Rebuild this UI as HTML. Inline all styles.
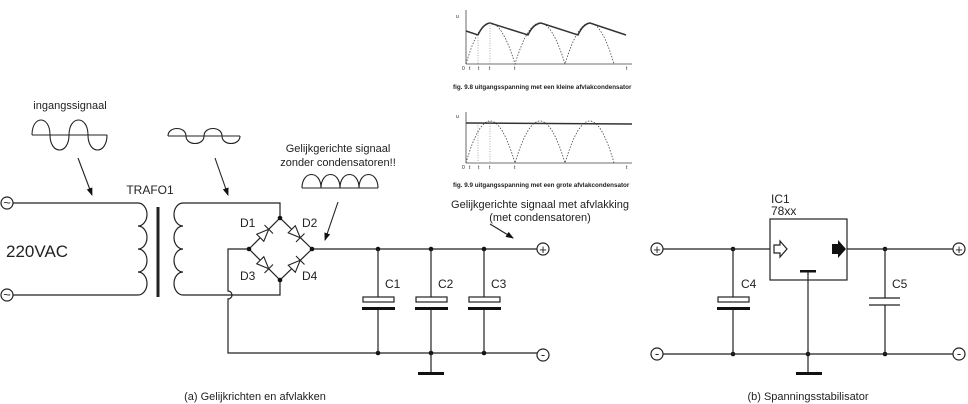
<!DOCTYPE html>
<html><head><meta charset="utf-8"><style>
html,body{margin:0;padding:0;background:#fff;}
svg{display:block;}
text{font-family:"Liberation Sans",sans-serif;fill:#222;}
</style></head><body>
<svg width="968" height="404" viewBox="0 0 968 404" xmlns="http://www.w3.org/2000/svg">
<defs>
<marker id="ah" markerWidth="8" markerHeight="8" refX="7" refY="4" orient="auto" markerUnits="userSpaceOnUse">
<path d="M0,1 L8,4 L0,7 Z" fill="#111"/></marker>
</defs>
<g stroke="#222" stroke-width="1.2" fill="none">
<circle cx="7" cy="203" r="6"/><circle cx="7" cy="295" r="6"/>
<path d="M13,203 H138 M13,295 H138"/>
<path d="M138,203 a9,11.5 0 0 1 0,23 a9,11.5 0 0 1 0,23 a9,11.5 0 0 1 0,23 a9,11.5 0 0 1 0,23"/>
<path d="M183,203 a9,11.5 0 0 0 0,23 a9,11.5 0 0 0 0,23 a9,11.5 0 0 0 0,23 a9,11.5 0 0 0 0,23"/>
<line x1="158" y1="207" x2="158" y2="297" stroke-width="3"/>
<path d="M183,203 H280 V218 M183,295 H280 V280"/>
<path d="M249,249 L280,218 L312,249 L280,280 Z"/>
<path d="M249,249 H228 V291 a4,4 0 0 1 0,8 V353 H537"/>
<path d="M312,249 H537"/>
</g>
<g fill="#fff" stroke="#222" stroke-width="1.1">
<g transform="translate(264.5,233.5) rotate(-45)"><path d="M-6,-5 L6,0 L-6,5 Z"/><line x1="6" y1="-6" x2="6" y2="6"/></g>
<g transform="translate(296,233.5) rotate(45)"><path d="M-6,-5 L6,0 L-6,5 Z"/><line x1="6" y1="-6" x2="6" y2="6"/></g>
<g transform="translate(264.5,264.5) rotate(45)"><path d="M-6,-5 L6,0 L-6,5 Z"/><line x1="6" y1="-6" x2="6" y2="6"/></g>
<g transform="translate(296,264.5) rotate(-45)"><path d="M-6,-5 L6,0 L-6,5 Z"/><line x1="6" y1="-6" x2="6" y2="6"/></g>
</g>
<g fill="#111">
<circle cx="280" cy="218" r="2.3"/><circle cx="249" cy="249" r="2.3"/><circle cx="312" cy="249" r="2.3"/><circle cx="280" cy="280" r="2.3"/>
<circle cx="378" cy="249" r="2.3"/><circle cx="431" cy="249" r="2.3"/><circle cx="484" cy="249" r="2.3"/>
<circle cx="378" cy="353" r="2.3"/><circle cx="431" cy="353" r="2.3"/><circle cx="484" cy="353" r="2.3"/>
<circle cx="733" cy="249" r="2.3"/><circle cx="733" cy="354" r="2.3"/><circle cx="808" cy="354" r="2.3"/>
<circle cx="885" cy="249" r="2.3"/><circle cx="885" cy="354" r="2.3"/>
</g>
<g stroke="#222" stroke-width="1.2" fill="#fff">
<path d="M378,249 V297 M378,309 V353 M431,249 V297 M431,309 V375 M484,249 V297 M484,309 V353" fill="none"/>
<rect x="363" y="297" width="31" height="5"/><rect x="416" y="297" width="31" height="5"/><rect x="469" y="297" width="31" height="5"/>
</g>
<g fill="#111">
<rect x="362" y="307" width="33" height="3"/><rect x="415" y="307" width="33" height="3"/><rect x="468" y="307" width="33" height="3"/>
<rect x="418" y="372" width="26" height="3"/>
</g>
<g stroke="#222" stroke-width="1.2" fill="#fff">
<circle cx="543" cy="249" r="6"/><circle cx="543" cy="355" r="6"/>
</g>
<g font-size="13" text-anchor="middle">
<text x="543" y="254">+</text>
<text x="543" y="359">-</text>
<text x="7" y="207">~</text>
<text x="7" y="299">~</text>
</g>
<g font-size="12">
<text x="70" y="109" text-anchor="middle" font-size="11">ingangssignaal</text>
<text x="150" y="194" text-anchor="middle">TRAFO1</text>
<text x="6" y="257" font-size="17">220VAC</text>
<text x="240" y="227">D1</text><text x="302" y="227">D2</text>
<text x="240" y="280">D3</text><text x="302" y="280">D4</text>
<text x="385" y="288">C1</text><text x="438" y="288">C2</text><text x="491" y="288">C3</text>
<text x="338" y="152" text-anchor="middle" font-size="11">Gelijkgerichte signaal</text>
<text x="338" y="166" text-anchor="middle" font-size="11">zonder condensatoren!!</text>
<text x="540" y="208" text-anchor="middle" font-size="11">Gelijkgerichte signaal met afvlakking</text>
<text x="540" y="221" text-anchor="middle" font-size="11">(met condensatoren)</text>
<text x="255" y="400" text-anchor="middle" font-size="11">(a) Gelijkrichten en afvlakken</text>
<text x="808" y="400" text-anchor="middle" font-size="11">(b) Spanningsstabilisator</text>
<text x="771" y="203">IC1</text><text x="771" y="215">78xx</text>
<text x="741" y="288">C4</text><text x="892" y="288">C5</text>
</g>
<g stroke="#222" stroke-width="1.1" fill="none">
<path d="M32,135 H107"/>
<path d="M32,135 C32,115 50,115 50,135 C50,155 69,155 69,135 C69,115 88,115 88,135 C88,155 107,155 107,135"/>
<path d="M168,136 H240"/>
<path d="M168,136 C168,126 186,126 186,136 C186,146 204,146 204,136 C204,126 222,126 222,136 C222,146 240,146 240,136"/>
<path d="M302,188 H378"/>
<path d="M302,188 C302,170 321,170 321,188 C321,170 340,170 340,188 C340,170 359,170 359,188 C359,170 378,170 378,188"/>
<path d="M78,158 L92,195" marker-end="url(#ah)"/>
<path d="M215,158 L228,195" marker-end="url(#ah)"/>
<path d="M338,202 L325,240" marker-end="url(#ah)"/>
<path d="M490,224 L513,238" marker-end="url(#ah)"/>
</g>
<g stroke="#444" stroke-width="0.8" fill="none">
<path d="M466,64 V10 M466,64 H632"/>
<path d="M466,64 Q490,-18 515,64 Q540,-18 565,64 Q590,-18 614,64" stroke-dasharray="1.5,1.5"/>
<path d="M466,31 L478,35 Q483,24 490,23 L528,35 Q533,24 541,23 L578,35 Q583,24 590,23 L626,35" stroke-width="1.5" stroke="#333"/>
<path d="M466,163 V112 M466,163 H632"/>
<path d="M466,163 Q490,79 515,163 Q540,79 565,163 Q590,79 614,163" stroke-dasharray="1.5,1.5"/>
<path d="M466,123 L632,124" stroke-width="1.5" stroke="#333"/>
<path d="M478,35 V64 M490,23 V64 M478,125 V163 M490,121 V163" stroke-dasharray="1,1.5" stroke="#999"/>
</g>
<g font-size="5" fill="#444">
<text x="456" y="18">u</text><text x="456" y="118">u</text>
<text x="462" y="70">0</text><text x="469" y="70">t</text><text x="478" y="70">t</text><text x="489" y="70">t</text><text x="514" y="70">t</text><text x="626" y="70">t</text>
<text x="462" y="169">0</text><text x="469" y="169">t</text><text x="478" y="169">t</text><text x="489" y="169">t</text><text x="514" y="169">t</text><text x="626" y="169">t</text>
</g>
<g font-size="6.3" font-weight="bold">
<text x="453" y="89">fig. 9.8 uitgangsspanning met een kleine afvlakcondensator</text>
<text x="453" y="187">fig. 9.9 uitgangsspanning met een grote afvlakcondensator</text>
</g>
<g stroke="#222" stroke-width="1.2" fill="none">
<circle cx="657" cy="249" r="6"/><circle cx="657" cy="354" r="6"/>
<circle cx="959" cy="249" r="6"/><circle cx="959" cy="354" r="6"/>
<path d="M663,249 H770 M847,249 H953 M663,354 H953"/>
<rect x="770" y="219" width="77" height="61"/>
<path d="M733,249 V297 M733,309 V354 M808,272 V373 M885,249 V298 M885,305 V354"/>
<path d="M869,298 H900 M869,305 H900"/>
<path d="M774,245 H780 V241 L787,249 L780,257 V253 H774 Z"/>
</g>
<rect x="718" y="297" width="31" height="5" fill="#fff" stroke="#222" stroke-width="1.2"/>
<g fill="#111">
<rect x="717" y="307" width="33" height="3"/>
<rect x="800" y="270" width="16" height="2.5"/>
<rect x="796" y="372" width="26" height="3"/>
<path d="M832,244 H838 V240 L846,249 L838,258 V254 H832 Z"/>
</g>
<g font-size="13" text-anchor="middle">
<text x="657" y="254">+</text>
<text x="959" y="254">+</text>
<text x="657" y="358">-</text>
<text x="959" y="358">-</text>
</g>
</svg>
</body></html>
